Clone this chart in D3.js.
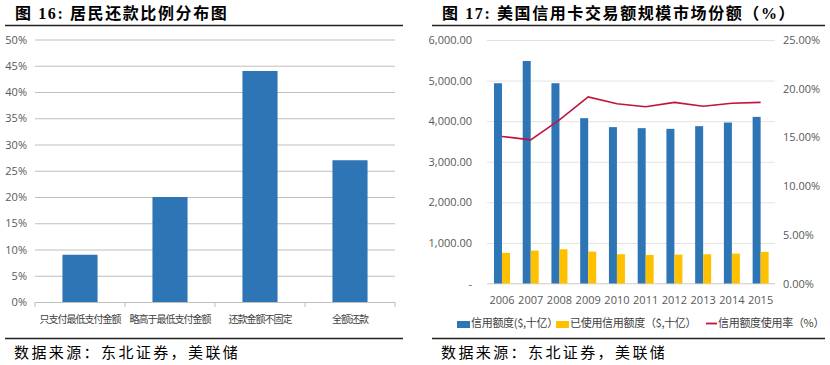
<!DOCTYPE html>
<html>
<head>
<meta charset="utf-8">
<script src="https://cdn.jsdelivr.net/npm/d3@7/dist/d3.min.js"></script>
<style>
  body { margin: 0; background: #fff; }
  svg { display: block; }
  .title { font-family: "Liberation Serif", "Noto Sans CJK SC", serif; font-weight: bold; font-size: 16px; fill: #000; letter-spacing: 1.6px; }
  .source { font-family: "Liberation Serif", "Noto Sans CJK SC", serif; font-size: 15px; fill: #000; letter-spacing: 2.4px; }
  .ax text { font-family: "Open Sans", "Noto Sans CJK SC", sans-serif; font-size: 11px; fill: #595959; }
  .cat text { font-family: "Noto Sans CJK SC", sans-serif; font-size: 10px; fill: #404040; letter-spacing: -1px; }
  .legend text { font-family: "Noto Sans CJK SC", sans-serif; font-size: 11px; fill: #404040; letter-spacing: -0.3px; }
</style>
</head>
<body>
<svg id="chart" width="830" height="365"></svg>
<script>
// left chart data
const repayCats = ['只支付最低支付金额', '略高于最低支付金额', '还款金额不固定', '全额还款'];
const repayShare = [9, 20, 44, 27];
const repayTicks = [0, 5, 10, 15, 20, 25, 30, 35, 40, 45, 50];

// right chart data
const years = ['2006', '2007', '2008', '2009', '2010', '2011', '2012', '2013', '2014', '2015'];
const creditLimit = [4935, 5483, 4935, 4074, 3853, 3828, 3811, 3877, 3967, 4106];
const creditUsed = [755, 811, 844, 787, 722, 705, 712, 720, 738, 779];
const usageRate = [15.1, 14.75, 16.8, 19.15, 18.45, 18.15, 18.6, 18.2, 18.5, 18.6];
const leftTicks = [0, 1000, 2000, 3000, 4000, 5000, 6000];
const rightTicks = [0, 5, 10, 15, 20, 25];

const blue = '#2e75b6', yellow = '#ffc000', red = '#c0143c';
const svg = d3.select('#chart');

// headers / footers
const frame = (x0, x1, title) => {
  svg.append('text').attr('class', 'title').attr('x', x0 + 10).attr('y', 19).text(title);
  svg.append('line').attr('x1', x0).attr('x2', x1).attr('y1', 25.5).attr('y2', 25.5)
    .attr('stroke', '#222').attr('stroke-width', 1.5);
  svg.append('line').attr('x1', x0).attr('x2', x1).attr('y1', 338.5).attr('y2', 338.5)
    .attr('stroke', '#222').attr('stroke-width', 1.5);
  svg.append('text').attr('class', 'source').attr('x', x0 + 9).attr('y', 358).text('数据来源：东北证券，美联储');
};
frame(5, 403, '图 16: 居民还款比例分布图');
frame(432, 825, '图 17: 美国信用卡交易额规模市场份额（%）');

// ---- left chart
{
  const x = d3.scaleBand().domain(repayCats).range([35, 395]).paddingInner(0.61).paddingOuter(0.305);
  const y = d3.scaleLinear().domain([0, 50]).range([302, 39.5]);
  const g = svg.append('g');

  g.append('g').attr('class', 'ax')
    .attr('transform', 'translate(35,0)')
    .call(d3.axisLeft(y).tickValues(repayTicks).tickFormat(d => d + '%').tickSize(-360).tickPadding(8))
    .call(a => a.select('.domain').remove())
    .call(a => a.selectAll('.tick line').attr('stroke', '#bfbfbf'))
    .call(a => a.selectAll('.tick text').attr('x', -8));

  g.selectAll('rect').data(repayShare).join('rect')
    .attr('x', (d, i) => x(repayCats[i]))
    .attr('width', x.bandwidth())
    .attr('y', d => y(d))
    .attr('height', d => y(0) - y(d))
    .attr('fill', blue);

  // category axis with boundary ticks
  const step = x.step();
  g.append('line').attr('x1', 35).attr('x2', 395).attr('y1', 302.5).attr('y2', 302.5).attr('stroke', '#bfbfbf');
  g.selectAll('line.bt').data(d3.range(repayCats.length + 1)).join('line').attr('class', 'bt')
    .attr('x1', i => 35 + i * step).attr('x2', i => 35 + i * step)
    .attr('y1', 302).attr('y2', 307).attr('stroke', '#bfbfbf');
  g.append('g').attr('class', 'cat').selectAll('text').data(repayCats).join('text')
    .attr('x', d => x(d) + x.bandwidth() / 2)
    .attr('y', 323)
    .attr('text-anchor', 'middle')
    .text(d => d);
}

// ---- right chart
{
  const x0 = d3.scaleBand().domain(years).range([487.6, 775]);
  const x1 = d3.scaleBand().domain(['limit', 'used']).range([x0.bandwidth() / 2 - 8, x0.bandwidth() / 2 + 8]);
  const yL = d3.scaleLinear().domain([0, 6000]).range([283.5, 40]);
  const yR = d3.scaleLinear().domain([0, 25]).range([283.5, 40]);
  const g = svg.append('g');

  g.append('g').attr('class', 'ax')
    .attr('transform', 'translate(487,0)')
    .call(d3.axisLeft(yL).tickValues(leftTicks).tickSize(-288).tickPadding(15)
      .tickFormat(d => d === 0 ? '-' : d3.format(',.2f')(d)))
    .call(a => a.select('.domain').remove())
    .call(a => a.selectAll('.tick line').attr('stroke', '#e3e3e3'))
    .call(a => a.selectAll('.tick text').attr('x', -15));

  g.append('g').attr('class', 'ax')
    .attr('transform', 'translate(775,0)')
    .call(d3.axisRight(yR).tickValues(rightTicks).tickSize(0).tickPadding(8)
      .tickFormat(d => d3.format('.2f')(d) + '%'))
    .call(a => a.select('.domain').remove());

  g.append('line').attr('x1', 487).attr('x2', 775).attr('y1', 283.5).attr('y2', 283.5).attr('stroke', '#d9d9d9');

  const grp = g.selectAll('g.yr').data(years).join('g').attr('class', 'yr')
    .attr('transform', d => `translate(${x0(d)},0)`);
  grp.append('rect')
    .attr('x', x1('limit')).attr('width', x1.bandwidth())
    .attr('y', (d, i) => yL(creditLimit[i]))
    .attr('height', (d, i) => yL(0) - yL(creditLimit[i]))
    .attr('fill', blue);
  grp.append('rect')
    .attr('x', x1('used')).attr('width', x1.bandwidth())
    .attr('y', (d, i) => yL(creditUsed[i]))
    .attr('height', (d, i) => yL(0) - yL(creditUsed[i]))
    .attr('fill', yellow);

  g.append('path').datum(usageRate)
    .attr('fill', 'none').attr('stroke', red).attr('stroke-width', 1.6)
    .attr('d', d3.line().x((d, i) => x0(years[i]) + x0.bandwidth() / 2).y(d => yR(d)));

  g.append('g').attr('class', 'ax').selectAll('text').data(years).join('text')
    .attr('x', d => x0(d) + x0.bandwidth() / 2)
    .attr('y', 304)
    .attr('text-anchor', 'middle')
    .text(d => d);

  const legend = g.append('g').attr('class', 'legend');
  const items = [
    {label: '信用额度($,十亿）', color: blue, kind: 'box', x: 457},
    {label: '已使用信用额度（$,十亿）', color: yellow, kind: 'box', x: 556},
    {label: '信用额度使用率（%）', color: red, kind: 'line', x: 706}
  ];
  items.forEach(it => {
    if (it.kind === 'box') {
      legend.append('rect').attr('x', it.x).attr('y', 321).attr('width', 13).attr('height', 7).attr('fill', it.color);
    } else {
      legend.append('line').attr('x1', it.x).attr('x2', it.x + 11).attr('y1', 323.5).attr('y2', 323.5)
        .attr('stroke', it.color).attr('stroke-width', 1.8);
    }
    legend.append('text').attr('x', it.x + (it.kind === 'box' ? 14 : 12)).attr('y', 327).text(it.label);
  });
}
</script>
</body>
</html>
